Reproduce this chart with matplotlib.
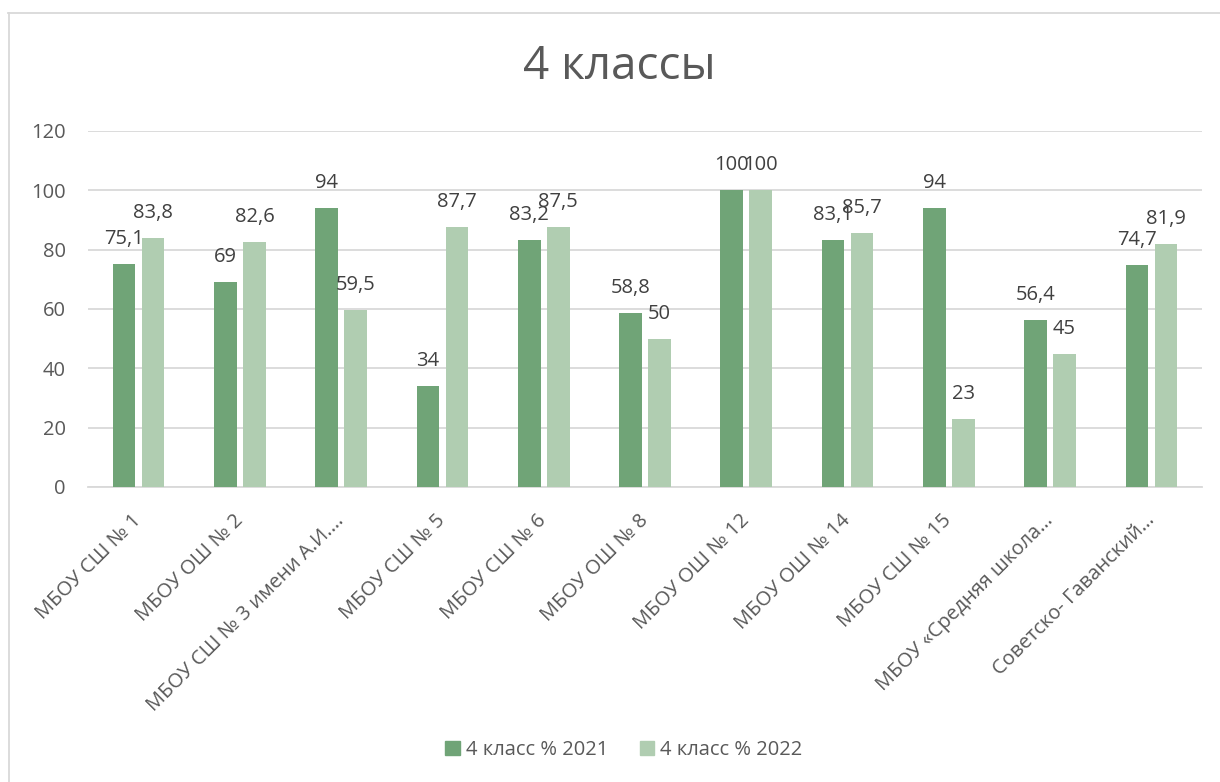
import numpy as np
import matplotlib
matplotlib.use('Agg')
import matplotlib.pyplot as plt
from matplotlib.lines import Line2D

plt.rcParams['font.family'] = ['Open Sans', 'DejaVu Sans']

schools = ['МБОУ СШ № 1', 'МБОУ ОШ № 2', 'МБОУ СШ № 3 имени А.И.…', 'МБОУ СШ № 5',
           'МБОУ СШ № 6', 'МБОУ ОШ № 8', 'МБОУ ОШ № 12', 'МБОУ ОШ № 14',
           'МБОУ СШ № 15', 'МБОУ «Средняя школа…', 'Советско- Гаванский…']
vals_2021 = [75.1, 69, 94, 34, 83.2, 58.8, 100, 83.1, 94, 56.4, 74.7]
vals_2022 = [83.8, 82.6, 59.5, 87.7, 87.5, 50, 100, 85.7, 23, 45, 81.9]
series_names = ['4 класс % 2021', '4 класс % 2022']
title = '4 классы'

c_dark = '#70a477'
c_light = '#b0cdb1'
grid_c = '#d9d9d9'
txt_c = '#595959'
lbl_c = '#404040'

fig = plt.figure(figsize=(12.2, 7.82), dpi=100)
ax = fig.add_axes([88/1220, 1 - 487/782, 1114/1220, 356/782])

x = np.arange(len(schools))
w = 0.224
off = 0.143
b1 = ax.bar(x - off, vals_2021, w, color=c_dark, zorder=3)
b2 = ax.bar(x + off, vals_2022, w, color=c_light, zorder=3)

def fmt(v):
    s = ('%g' % v).replace('.', ',')
    return s

for bars, vals in ((b1, vals_2021), (b2, vals_2022)):
    for r, v in zip(bars, vals):
        ax.annotate(fmt(v), (r.get_x() + r.get_width() / 2, v),
                    xytext=(0, 18), textcoords='offset points',
                    ha='center', va='center', fontsize=14.5, color=lbl_c, zorder=4)

ax.set_xlim(-0.5, len(schools) - 0.5)
ax.set_ylim(0, 120)
ax.set_yticks(range(0, 121, 20))
ax.yaxis.grid(True, color=grid_c, lw=1.3, zorder=0)
for s in ['top', 'right', 'left']:
    ax.spines[s].set_visible(False)
ax.spines['bottom'].set_color(grid_c)
ax.spines['bottom'].set_linewidth(1.3)
ax.tick_params(axis='both', length=0, labelsize=14.5, labelcolor=txt_c)
ax.tick_params(axis='y', pad=16)
ax.tick_params(axis='x', pad=22)
ax.set_xticks(x)
ax.set_xticklabels(schools, rotation=45, ha='right', va='center', rotation_mode='anchor')

fig.text(619/1220, 1 - 67/782, title, ha='center', va='center', fontsize=33, color=txt_c)

handles = [plt.Rectangle((0, 0), 1, 1, color=c_dark), plt.Rectangle((0, 0), 1, 1, color=c_light)]
fig.legend(handles, series_names, loc='center', bbox_to_anchor=(624/1220, 1 - 750/782),
           ncol=2, frameon=False, fontsize=14.5, handlelength=0.7, handleheight=0.7,
           handletextpad=0.3, columnspacing=1.6, labelcolor=txt_c)

# chart border (top and left visible)
fig.add_artist(Line2D([8/1220, 1], [1 - 12.5/782] * 2, color=grid_c, lw=1.3))
fig.add_artist(Line2D([8.5/1220] * 2, [0, 1 - 12.5/782], color=grid_c, lw=1.3))

fig.savefig('out.png', dpi=100)
